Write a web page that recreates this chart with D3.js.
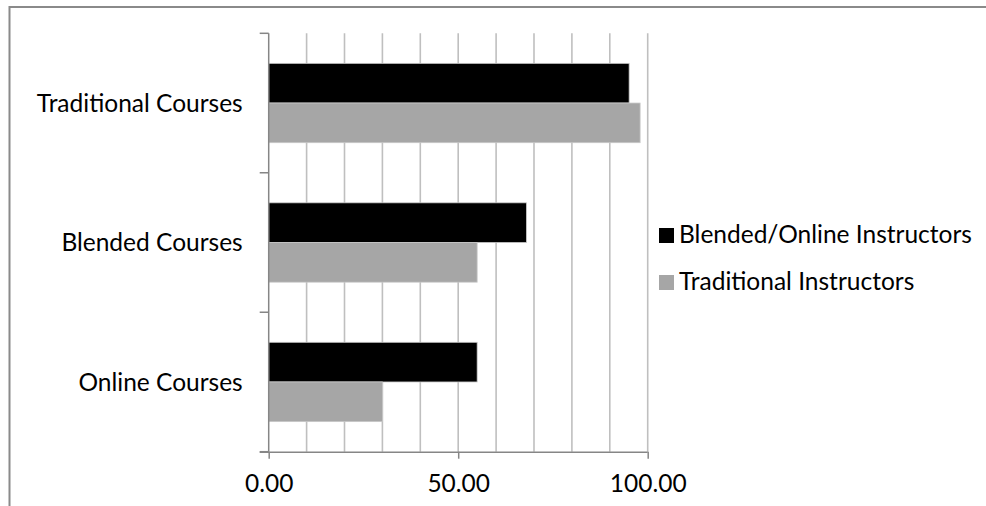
<!DOCTYPE html>
<html>
<head>
<meta charset="utf-8">
<script src="https://cdn.jsdelivr.net/npm/d3@7"></script>
<style>
  html, body { margin: 0; padding: 0; background: #fff; }
  svg { display: block; }
  text { font-family: Lato, "Open Sans", sans-serif; fill: #000; }
</style>
</head>
<body>
<svg id="chart" width="986" height="506"></svg>
<script>
const categories = ["Traditional Courses", "Blended Courses", "Online Courses"];
const seriesNames = ["Blended/Online Instructors", "Traditional Instructors"];
const blendedOnlineValues = [95.1, 68.0, 55.0];
const traditionalValues = [98.0, 55.0, 30.0];
const seriesColors = ["#000000", "#a6a6a6"];
const xTickValues = [0, 50, 100];
const xGridValues = [0, 10, 20, 30, 40, 50, 60, 70, 80, 90, 100];

const svg = d3.select("#chart");
const W = 986, H = 506;
const plot = { left: 268.7, right: 647.7, top: 33.3, bottom: 451.7 };
const fontSize = 24.5;

// outer border (top and left only visible)
svg.append("path")
  .attr("d", `M9.5,${H} L9.5,7 L${W},7`)
  .attr("fill", "none").attr("stroke", "#8a8a8a").attr("stroke-width", 2);

const x = d3.scaleLinear().domain([0, 100]).range([plot.left, plot.right]);
const y0 = d3.scaleBand().domain(categories).range([plot.top, plot.bottom]).paddingInner(0).paddingOuter(0);
const y1 = d3.scaleBand().domain(seriesNames).range([0, y0.bandwidth()]).paddingOuter(0.758).paddingInner(0);

// gridlines
svg.append("g").selectAll("line").data(xGridValues.slice(1)).join("line")
  .attr("x1", d => x(d)).attr("x2", d => x(d))
  .attr("y1", plot.top).attr("y2", plot.bottom)
  .attr("stroke", "#bfbfbf").attr("stroke-width", 1.6);

// bars
const rows = categories.map((c, i) => ({ cat: c, vals: [blendedOnlineValues[i], traditionalValues[i]] }));
const g = svg.append("g");
rows.forEach(r => {
  r.vals.forEach((v, j) => {
    g.append("rect")
      .attr("x", x(0))
      .attr("y", y0(r.cat) + y1(seriesNames[j]))
      .attr("width", x(v) - x(0))
      .attr("height", y1.bandwidth())
      .attr("fill", seriesColors[j])
      .attr("stroke", "#c8c8c8").attr("stroke-width", 0.8);
  });
});

// y axis
const yAxis = d3.axisLeft(y0).tickSize(0).tickPadding(26);
const yg = svg.append("g").attr("transform", `translate(${plot.left},0)`).call(yAxis);
yg.select(".domain").remove();
yg.selectAll("text").attr("font-size", fontSize).attr("font-family", "Lato").attr("dy", "0.35em");
const yLine = svg.append("g");
yLine.append("line").attr("x1", plot.left).attr("x2", plot.left).attr("y1", plot.top).attr("y2", plot.bottom)
  .attr("stroke", "#868686").attr("stroke-width", 1.5);
const boundaries = categories.map(c => y0(c)).concat([plot.bottom]);
yLine.selectAll("line.tk").data(boundaries).join("line").attr("class", "tk")
  .attr("x1", plot.left - 9).attr("x2", plot.left).attr("y1", d => d).attr("y2", d => d)
  .attr("stroke", "#868686").attr("stroke-width", 1.5);

// x axis
const xAxis = d3.axisBottom(x).tickValues(xTickValues).tickSize(7).tickPadding(16).tickFormat(d3.format(".2f"));
const xg = svg.append("g").attr("transform", `translate(0,${plot.bottom})`).call(xAxis);
xg.select(".domain").attr("d", `M${plot.left - 9},0.5H${plot.right}`).attr("stroke", "#868686").attr("stroke-width", 1.5);
xg.selectAll(".tick line").attr("stroke", "#868686").attr("stroke-width", 1.5);
xg.selectAll("text").attr("font-size", fontSize).attr("font-family", "Lato");

// legend
const legend = svg.append("g").attr("transform", "translate(659,228)");
seriesNames.forEach((n, i) => {
  const lg = legend.append("g").attr("transform", `translate(0,${i * 47})`);
  lg.append("rect").attr("width", 15).attr("height", 15).attr("fill", seriesColors[i]);
  lg.append("text").attr("x", 20).attr("y", 15).attr("font-size", fontSize).text(n);
});
</script>
</body>
</html>
